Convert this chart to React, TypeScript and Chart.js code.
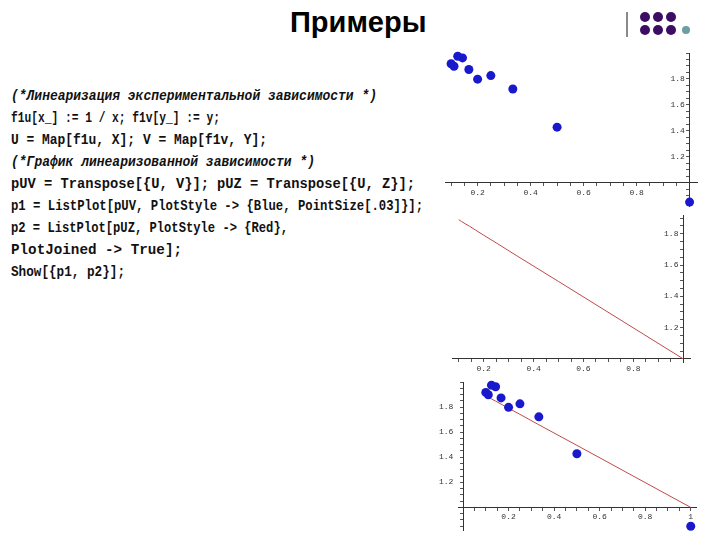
import React, { useEffect, useRef } from "react";
import { Chart, registerables } from "chart.js";
Chart.register(...registerables);

// ---- data ----
const U = [1, 0.5, 0.333, 0.25, 0.2, 0.167, 0.143, 0.125, 0.111, 0.1];
const V = [0.85, 1.428, 1.722, 1.826, 1.798, 1.873, 1.962, 1.975, 1.898, 1.917];
const Z = [1.0, 1.495, 1.659, 1.742, 1.791, 1.824, 1.848, 1.865, 1.879, 1.89];

const X_MAJOR = [0.2, 0.4, 0.6, 0.8];
const X_LABELS = ["0.2", "0.4", "0.6", "0.8"];
const X_MAJOR_3 = [0.2, 0.4, 0.6, 0.8, 1];
const X_LABELS_3 = ["0.2", "0.4", "0.6", "0.8", "1"];
const Y_MAJOR = [1.2, 1.4, 1.6, 1.8];
const Y_LABELS = ["1.2", "1.4", "1.6", "1.8"];
const MINOR_STEP = 0.05;

const TITLE = "Примеры";
const CODE_LINES = [
  "(*Линеаризация экспериментальной зависимости *)",
  "f1u[x_] := 1 / x; f1v[y_] := y;",
  "U = Map[f1u, X]; V = Map[f1v, Y];",
  "(*График линеаризованной зависимости *)",
  "pUV = Transpose[{U, V}]; pUZ = Transpose[{U, Z}];",
  "p1 = ListPlot[pUV, PlotStyle -> {Blue, PointSize[.03]}];",
  "p2 = ListPlot[pUZ, PlotStyle -> {Red},",
  "PlotJoined -> True];",
  "Show[{p1, p2}];",
];
const CODE_ITALIC = [true, false, false, true, false, false, false, false, false];

// ---- layout (pixel placement only) ----
const CODE_RIGHT = [377, 220, 267, 315, 415, 423, 288, 182, 125];
const PAD = { left: 30, right: 8, top: 8, bottom: 18 };

type Spec = {
  box: [number, number, number, number];
  xr: [number, number];
  yr: [number, number];
  xAxisAt: number;
  yAxisAt: number;
  points: boolean;
  line: boolean;
  xMajor: number[];
  xLabels: string[];
  yLabelGap: string;
};

const SPECS: Spec[] = [
  { box: [445, 52.7, 697, 206], xr: [0.077, 1.028], yr: [0.82, 2.0], xAxisAt: 1, yAxisAt: 1, points: true, line: false, xMajor: X_MAJOR, xLabels: X_LABELS, yLabelGap: " " },
  { box: [451.6, 215, 690, 362], xr: [0.073, 1.027], yr: [0.98, 1.92], xAxisAt: 1, yAxisAt: 1, points: false, line: true, xMajor: X_MAJOR, xLabels: X_LABELS, yLabelGap: " " },
  { box: [458.4, 381.7, 696.6, 529.2], xr: [-0.022, 1.023], yr: [0.82, 2.0], xAxisAt: 1, yAxisAt: 0, points: true, line: true, xMajor: X_MAJOR_3, xLabels: X_LABELS_3, yLabelGap: "  " },
];

function minorTicks(min: number, max: number) {
  const out: { value: number }[] = [];
  const start = Math.ceil(min / MINOR_STEP - 1e-9);
  for (let k = start; k * MINOR_STEP <= max + 1e-9; k++) {
    out.push({ value: Math.round(k * MINOR_STEP * 1000) / 1000 });
  }
  return out;
}

function labelFor(v: number, majors: number[], labels: string[]) {
  const i = majors.findIndex((m) => Math.abs(m - v) < 1e-6);
  return i >= 0 ? labels[i] : "";
}

const TICK_FONT = { family: "'Liberation Mono', 'DejaVu Sans Mono', monospace", size: 8 };

function Plot({ spec }: { spec: Spec }) {
  const ref = useRef<HTMLCanvasElement | null>(null);
  const [l, t, r, b] = spec.box;
  const w = Math.round(r - l + PAD.left + PAD.right);
  const h = Math.round(b - t + PAD.top + PAD.bottom);
  useEffect(() => {
    if (!ref.current) return;
    const datasets: any[] = [];
    if (spec.points) {
      datasets.push({
        data: U.map((u, i) => ({ x: u, y: V[i] })),
        showLine: false,
        pointRadius: 4.5,
        pointBackgroundColor: "#1818cc",
        pointBorderWidth: 0,
        clip: false,
      });
    }
    if (spec.line) {
      datasets.push({
        data: U.map((u, i) => ({ x: u, y: Z[i] })),
        showLine: true,
        pointRadius: 0,
        borderColor: "#c04a4a",
        borderWidth: 1,
        clip: false,
      });
    }
    const chart = new Chart(ref.current, {
      type: "scatter",
      data: { datasets },
      options: {
        animation: false,
        responsive: false,
        events: [],
        layout: { padding: PAD },
        plugins: { legend: { display: false }, tooltip: { enabled: false } },
        scales: {
          x: {
            type: "linear",
            min: spec.xr[0],
            max: spec.xr[1],
            position: { y: spec.xAxisAt } as any,
            afterFit: (s: any) => { s.height = 0; },
            afterBuildTicks: (s: any) => { s.ticks = minorTicks(spec.xr[0], spec.xr[1]); },
            ticks: {
              autoSkip: false,
              maxRotation: 0,
              padding: 2,
              color: "#333",
              font: TICK_FONT,
              callback: (v: any) => labelFor(Number(v), spec.xMajor, spec.xLabels),
            },
            grid: { drawOnChartArea: false, drawTicks: true, tickLength: 3, color: "#555", lineWidth: 1 },
            border: { display: true, color: "#333", width: 1 },
          },
          y: {
            type: "linear",
            min: spec.yr[0],
            max: spec.yr[1],
            position: { x: spec.yAxisAt } as any,
            afterFit: (s: any) => { s.width = 0; },
            afterBuildTicks: (s: any) => { s.ticks = minorTicks(spec.yr[0], spec.yr[1]); },
            ticks: {
              autoSkip: false,
              padding: 2,
              color: "#333",
              font: TICK_FONT,
              callback: (v: any) => {
                const s = labelFor(Number(v), Y_MAJOR, Y_LABELS);
                return s ? s + spec.yLabelGap : "";
              },
            },
            grid: { drawOnChartArea: false, drawTicks: true, tickLength: 3, color: "#555", lineWidth: 1 },
            border: { display: true, color: "#333", width: 1 },
          },
        },
      } as any,
    });
    return () => chart.destroy();
  }, []);
  return (
    <canvas
      ref={ref}
      width={w}
      height={h}
      style={{ position: "absolute", left: l - PAD.left, top: t - PAD.top, width: w, height: h }}
    />
  );
}

export default function App() {
  return (
    <div style={{ position: "absolute", left: 0, top: 0, width: 720, height: 540, background: "#fff", overflow: "hidden" }}>
      <div
        style={{
          position: "absolute",
          left: 290,
          top: 4,
          fontFamily: "'Liberation Sans', Arial, sans-serif",
          fontWeight: "bold",
          fontSize: 29,
          color: "#000",
          lineHeight: "36px",
          whiteSpace: "nowrap",
        }}
      >
        {TITLE}
      </div>
      {/* logo */}
      <div style={{ position: "absolute", left: 626, top: 12, width: 2, height: 25, background: "#8a8a8a" }} />
      {[[645, 17], [657.5, 17], [670.5, 17], [645, 29.5], [657.5, 29.5], [670.5, 29.5]].map(([cx, cy], i) => (
        <div key={i} style={{ position: "absolute", left: cx - 5, top: cy - 5, width: 10, height: 10, borderRadius: "50%", background: "#3d0d64" }} />
      ))}
      <div style={{ position: "absolute", left: 685.5 - 4, top: 30 - 4, width: 8, height: 8, borderRadius: "50%", background: "#6c9ea2" }} />

      <svg width={440} height={300} style={{ position: "absolute", left: 0, top: 0 }}>
        {CODE_LINES.map((line, i) => (
          <text
            key={i}
            x={11}
            y={99.5 + i * 22.1}
            textLength={CODE_RIGHT[i] - 11}
            lengthAdjust="spacingAndGlyphs"
            fontFamily="'Liberation Mono', 'Courier New', monospace"
            fontWeight="bold"
            fontStyle={CODE_ITALIC[i] ? "italic" : "normal"}
            fontSize={14}
            fill="#111"
          >
            {line}
          </text>
        ))}
      </svg>

      {SPECS.map((s, i) => (
        <Plot key={i} spec={s} />
      ))}
    </div>
  );
}
